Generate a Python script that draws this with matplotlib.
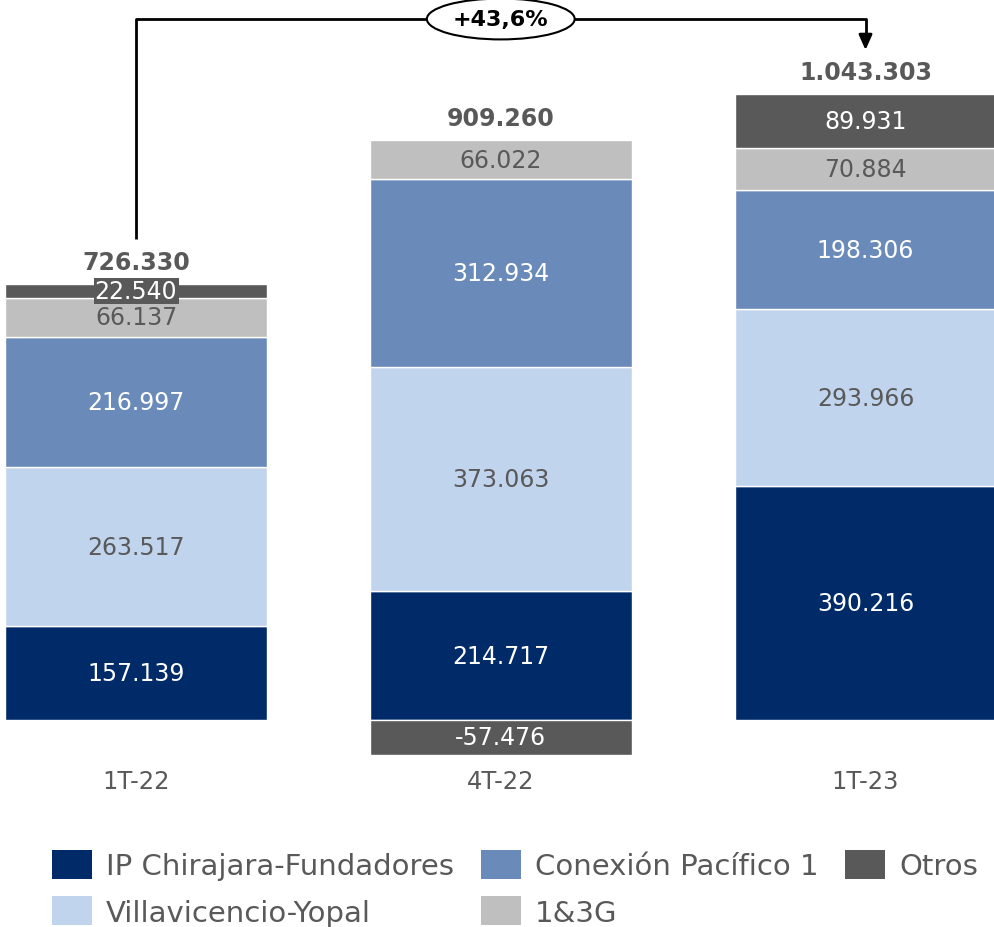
import matplotlib
matplotlib.use("Agg")
import matplotlib.pyplot as plt
from matplotlib.patches import Patch

categories = ["1T-22", "4T-22", "1T-23"]
series_names = ["IP Chirajara-Fundadores", "Villavicencio-Yopal", "Conexión Pacífico 1", "1&3G", "Otros"]
ip_chirajara = [157139, 214717, 390216]
villavicencio = [263517, 373063, 293966]
conexion_pacifico = [216997, 312934, 198306]
g13 = [66137, 66022, 70884]
otros = [22540, -57476, 89931]
totals = [726330, 909260, 1043303]
growth_label = "+43,6%"

colors = {
    "IP Chirajara-Fundadores": "#002b69",
    "Villavicencio-Yopal": "#c1d4ed",
    "Conexión Pacífico 1": "#6a8bb9",
    "1&3G": "#bfbfbf",
    "Otros": "#595959",
}
text_colors = {
    "IP Chirajara-Fundadores": "white",
    "Villavicencio-Yopal": "#595959",
    "Conexión Pacífico 1": "white",
    "1&3G": "#595959",
    "Otros": "white",
}
series_values = [ip_chirajara, villavicencio, conexion_pacifico, g13, otros]

def fmt(v):
    s = f"{abs(v):,}".replace(",", ".")
    return ("-" if v < 0 else "") + s

plt.rcParams['font.family'] = ['DejaVu Sans']
fig = plt.figure(figsize=(9.95, 9.28), dpi=100)
ax = fig.add_axes([0, 0, 1, 1])
ax.set_xlim(-0.3729, 2.355)
ax.set_ylim(-344800, 1201100)
ax.axis("off")

x = list(range(len(categories)))
width = 0.718
pos_bottom = [0] * 3
neg_bottom = [0] * 3
for name, vals in zip(series_names, series_values):
    bottoms = []
    for i, v in enumerate(vals):
        if v >= 0:
            bottoms.append(pos_bottom[i])
            pos_bottom[i] += v
        else:
            bottoms.append(neg_bottom[i])
            neg_bottom[i] += v
    ax.bar(x, vals, width=width, bottom=bottoms, color=colors[name],
           edgecolor="white", linewidth=1.0)
    for i, v in enumerate(vals):
        yc = bottoms[i] + v / 2
        kw = {}
        if name == "Otros" and i == 0:
            kw["bbox"] = dict(boxstyle="square,pad=0.05", fc=colors["Otros"], ec="none")
        ax.text(x[i], yc, fmt(v), ha="center", va="center", fontsize=17,
                color=text_colors[name], **kw)

for i, t in enumerate(totals):
    ax.text(x[i], pos_bottom[i] + 36600, fmt(t), ha="center", va="center",
            fontsize=17, fontweight="bold", color="#595959")

for i, c in enumerate(categories):
    ax.text(x[i], -101600, c, ha="center", va="center", fontsize=17.5, color="#595959")

# growth annotation
y_line = 1167800
ax.plot([0, 0, 2, 2], [801300, y_line, y_line, 1135000], color="black", lw=2, solid_capstyle="butt")
ax.annotate("", xy=(2, 1116100), xytext=(2, 1140000),
            arrowprops=dict(arrowstyle="-|>,head_length=0.9,head_width=0.4", color="black", lw=2,
                            shrinkA=0, shrinkB=0))
ax.text(1, y_line, growth_label, ha="center", va="center", fontsize=16, fontweight="bold",
        color="black",
        bbox=dict(boxstyle="ellipse,pad=0.2", fc="white", ec="black", lw=1.5))

handles = [Patch(facecolor=colors[n], edgecolor="none", label=n) for n in series_names]
fig.legend(handles=handles, ncol=3, loc="upper left", bbox_to_anchor=(52 / 995, 1 - 851 / 928),
           frameon=False, fontsize=21, handlelength=1.37, handleheight=1.15,
           handletextpad=0.48, columnspacing=0.92, labelspacing=0.55, labelcolor="#595959",
           borderpad=0, borderaxespad=0)

fig.savefig("out.png", dpi=100)
